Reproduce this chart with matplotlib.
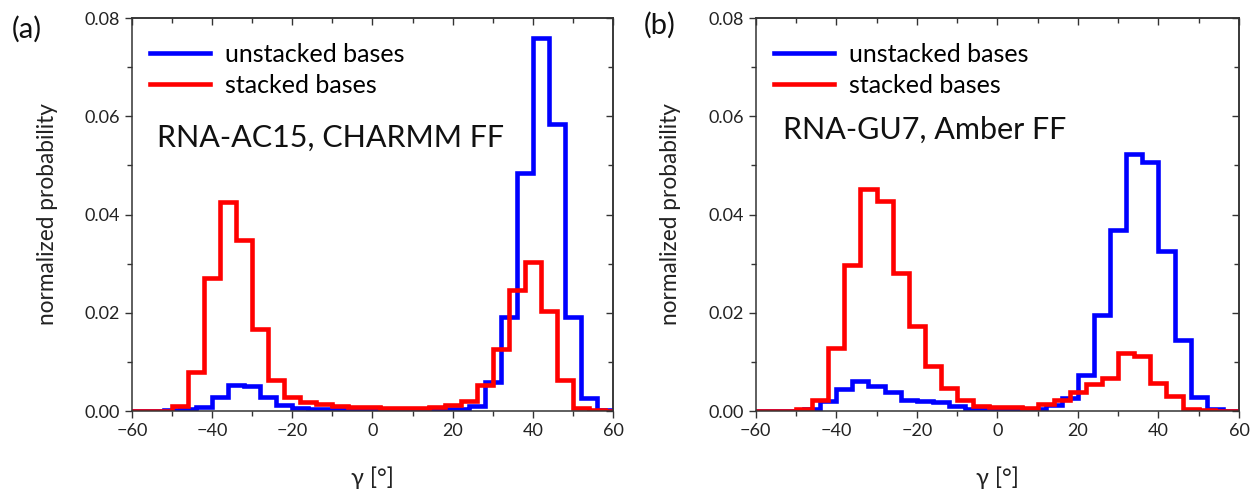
"""Gamma angle histograms for stacked / unstacked bases."""

import matplotlib

matplotlib.use("Agg")
import matplotlib.pyplot as plt
from matplotlib.ticker import MultipleLocator

plt.rcParams["font.family"] = ["Lato", "DejaVu Sans"]

# red bins are centred on multiples of 4, blue bins start on multiples of 4
red_edges = list(range(-62, 63, 4))
blue_edges = list(range(-60, 61, 4))

red_a = [0, 0, 0, 0.0010, 0.0080, 0.0271, 0.0425, 0.0349, 0.0166, 0.0064,
         0.0029, 0.0019, 0.0015, 0.0011, 0.0009, 0.0008, 0.0007, 0.0007,
         0.0007, 0.0009, 0.0012, 0.0021, 0.0053, 0.0127, 0.0246, 0.0304,
         0.0204, 0.0064, 0.0007, 0.0002, 0]
blue_a = [0, 0, 0.0002, 0.0005, 0.0008, 0.0028, 0.0052, 0.0050, 0.0028,
          0.0012, 0.0007, 0.0005, 0.0004, 0.0004, 0.0003, 0.0003, 0.0003,
          0.0003, 0.0003, 0.0004, 0.0005, 0.0011, 0.0060, 0.0192, 0.0485,
          0.0759, 0.0585, 0.0192, 0.0026, 0.0002]

red_b = [0, 0, 0, 0.0005, 0.0023, 0.0129, 0.0298, 0.0451, 0.0428, 0.0280,
         0.0174, 0.0092, 0.0046, 0.0023, 0.0011, 0.0008, 0.0009, 0.0006,
         0.0014, 0.0022, 0.0039, 0.0055, 0.0068, 0.0118, 0.0112, 0.0057,
         0.0030, 0.0005, 0.0002, 0, 0]
blue_b = [0, 0, 0.0001, 0.0004, 0.0021, 0.0045, 0.0062, 0.0051, 0.0038,
          0.0023, 0.0021, 0.0018, 0.0010, 0.0005, 0.0004, 0.0004, 0.0004,
          0.0005, 0.0012, 0.0026, 0.0073, 0.0195, 0.0369, 0.0523, 0.0506,
          0.0325, 0.0145, 0.0028, 0.0005, 0.0001]

panels = [
    ("(a)", "RNA-AC15, CHARMM FF", red_a, blue_a),
    ("(b)", "RNA-GU7, Amber FF", red_b, blue_b),
]
title_pos = [(0.052, 0.695), (0.056, 0.715)]
tag_pos = [(0.009, 0.94), (0.514, 0.948)]

fig = plt.figure(figsize=(12.52, 4.9), dpi=100)
axes = [
    fig.add_axes([0.1054, 0.1612, 0.3842, 0.802]),
    fig.add_axes([0.6036, 0.1612, 0.3860, 0.802]),
]

for i, (ax, (tag, title, red, blue)) in enumerate(zip(axes, panels)):
    ax.stairs(blue, blue_edges, color="#0000ff", lw=3.3, label="unstacked bases")
    ax.stairs(red, red_edges, color="#ff0000", lw=3.3, label="stacked bases")

    ax.set_xlim(-60, 60)
    ax.set_ylim(0, 0.08)
    ax.xaxis.set_major_locator(MultipleLocator(20))
    ax.xaxis.set_minor_locator(MultipleLocator(10))
    ax.yaxis.set_major_locator(MultipleLocator(0.02))
    ax.yaxis.set_minor_locator(MultipleLocator(0.01))
    ax.yaxis.set_major_formatter(lambda v, _: f"{v:.2f}")
    ax.tick_params(which="both", direction="out", colors="#333333",
                   labelcolor="#222222", labelsize=13, width=1)
    ax.tick_params(which="major", length=5)
    ax.tick_params(which="minor", length=3.5)

    # mirrored ticks pointing inwards on top and right
    top = ax.secondary_xaxis("top")
    top.xaxis.set_major_locator(MultipleLocator(20))
    top.xaxis.set_minor_locator(MultipleLocator(10))
    top.tick_params(which="both", direction="in", labeltop=False,
                    colors="#333333", width=1)
    top.tick_params(which="major", length=5)
    top.tick_params(which="minor", length=3.5)
    right = ax.secondary_yaxis("right")
    right.yaxis.set_major_locator(MultipleLocator(0.02))
    right.yaxis.set_minor_locator(MultipleLocator(0.01))
    right.tick_params(which="both", direction="in", labelright=False,
                      colors="#333333", width=1)
    right.tick_params(which="major", length=5)
    right.tick_params(which="minor", length=3.5)

    for sp in list(ax.spines.values()) + [top.spines["top"], right.spines["right"]]:
        sp.set_color("#333333")
        sp.set_linewidth(1.1)

    ax.set_xlabel("γ [°]", fontsize=17, color="#222222")
    ax.xaxis.set_label_coords(0.5, -0.17)
    ax.xaxis.label.set_va("center")
    ax.set_ylabel("normalized probability", fontsize=16.3, color="#222222")
    ax.yaxis.set_label_coords(-0.154, 0.5)

    ax.legend(loc="upper left", bbox_to_anchor=(0.038, 0.937), frameon=False,
              fontsize=18, handlelength=2.4, handletextpad=0.6,
              labelspacing=0.33, borderpad=0, borderaxespad=0)
    ax.text(*title_pos[i], title, transform=ax.transAxes, fontsize=22,
            va="center", ha="left", color="#111111")
    fig.text(*tag_pos[i], tag, fontsize=21, va="center", ha="left",
             color="#111111")

fig.savefig("out.png", dpi=100)
